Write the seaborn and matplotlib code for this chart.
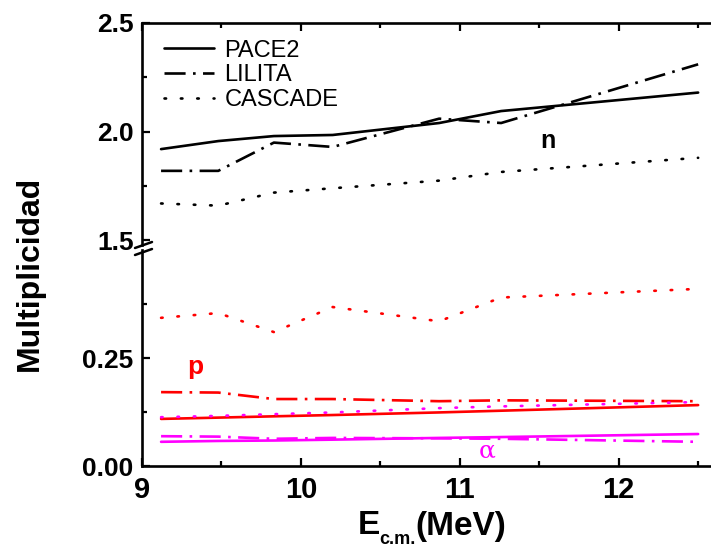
import numpy as np
import pandas as pd
import matplotlib
matplotlib.use("Agg")
import matplotlib.pyplot as plt
from matplotlib.lines import Line2D
import seaborn as sns

# ---------------- data ----------------
energy = [9.12, 9.48, 9.83, 10.2, 10.87, 11.26, 12.5]

n_pace2 = [1.92, 1.957, 1.98, 1.985, 2.04, 2.095, 2.18]
n_lilita = [1.82, 1.82, 1.95, 1.93, 2.06, 2.04, 2.31]
n_cascade = [1.67, 1.66, 1.72, 1.74, 1.775, 1.815, 1.88]

p_pace2 = [0.109, 0.112, 0.115, 0.118, 0.124, 0.128, 0.141]
p_lilita = [0.171, 0.170, 0.155, 0.155, 0.150, 0.152, 0.150]
p_cascade = [0.343, 0.354, 0.310, 0.368, 0.335, 0.390, 0.410]

a_pace2 = [0.056, 0.058, 0.059, 0.061, 0.065, 0.067, 0.074]
a_lilita = [0.069, 0.068, 0.063, 0.065, 0.064, 0.063, 0.056]
a_cascade = [0.113, 0.116, 0.120, 0.124, 0.134, 0.138, 0.148]

codes = ["PACE2", "LILITA", "CASCADE"]
x_ticks = [9, 10, 11, 12]
top_ticks = [1.5, 2.0, 2.5]
bot_ticks = [0.00, 0.25]

# ---------------- style ----------------
sns.set_style("ticks")
plt.rcParams["font.family"] = ["Liberation Sans", "DejaVu Sans"]
for k in ("text.color", "axes.labelcolor", "xtick.color", "ytick.color",
          "axes.edgecolor"):
    plt.rcParams[k] = "black"

W, H = 711, 558
fig = plt.figure(figsize=(W / 100, H / 100), dpi=100)

px_per_unit = 158.9
x0 = 142
xmax = 12.6
x1 = x0 + (xmax - 9) * px_per_unit


def rect(xa, ya, xb, yb):
    return [xa / W, 1 - yb / H, (xb - xa) / W, (yb - ya) / H]


ax_top = fig.add_axes(rect(x0, 23, x1, 245))
ax_bot = fig.add_axes(rect(x0, 250, x1, 466))

lw = 1.9
styles = {
    "PACE2": dict(linestyle="-"),
    "LILITA": dict(linestyle=(0, (8, 2.8, 1.0, 2.8))),
    "CASCADE": dict(linestyle=(0, (0.6, 5.6)), dash_capstyle="round"),
}

series_top = {"PACE2": n_pace2, "LILITA": n_lilita, "CASCADE": n_cascade}
series_p = {"PACE2": p_pace2, "LILITA": p_lilita, "CASCADE": p_cascade}
series_a = {"PACE2": a_pace2, "LILITA": a_lilita, "CASCADE": a_cascade}

for name in codes:
    sns.lineplot(x=energy, y=series_top[name], ax=ax_top, color="black",
                 lw=lw, label=name, **styles[name])
for name in codes:
    sns.lineplot(x=energy, y=series_p[name], ax=ax_bot, color="#ff0000",
                 lw=lw, legend=False, **styles[name])
    sns.lineplot(x=energy, y=series_a[name], ax=ax_bot, color="#ff00ff",
                 lw=lw, legend=False, **styles[name])

# ---------------- axes ----------------
for ax in (ax_top, ax_bot):
    ax.set_xlim(9, xmax)
    ax.set_xticks(x_ticks)
    ax.set_xticks(np.arange(9.5, 12.6, 1.0), minor=True)
    ax.spines["right"].set_visible(False)
    for s in ax.spines.values():
        s.set_linewidth(1.9)
        s.set_color("black")
    ax.tick_params(which="major", direction="in", length=6, width=1.6)
    ax.tick_params(which="minor", direction="in", length=3.5, width=1.6)
    ax.set_xlabel("")
    ax.set_ylabel("")
    ax.set_facecolor("white")

ax_top.set_ylim(1.479, 2.5)
ax_top.set_yticks(top_ticks)
ax_top.set_yticks([1.75, 2.25], minor=True)
ax_top.set_yticklabels([f"{v:.1f}" for v in top_ticks])
ax_top.spines["bottom"].set_visible(False)
ax_top.tick_params(axis="x", which="both", top=True, bottom=False,
                   labelbottom=False)
ax_top.tick_params(axis="y", which="both", left=True, right=False)

ax_bot.set_ylim(0, 0.5)
ax_bot.set_yticks(bot_ticks)
ax_bot.set_yticks([0.125, 0.375], minor=True)
ax_bot.set_yticklabels([f"{v:.2f}" for v in bot_ticks])
ax_bot.spines["top"].set_visible(False)
ax_bot.tick_params(axis="x", which="both", top=False, bottom=True)
ax_bot.tick_params(axis="y", which="both", left=True, right=False)

for ax in (ax_top, ax_bot):
    for lab in ax.get_yticklabels():
        lab.set_fontweight("bold")
        lab.set_fontsize(19)
        lab.set_color("black")
    for lab in ax.get_xticklabels():
        lab.set_fontweight("bold")
        lab.set_fontsize(21)
        lab.set_color("black")
ax_bot.tick_params(axis="x", pad=7)
ax_top.tick_params(axis="y", pad=6)
ax_bot.tick_params(axis="y", pad=6)

# axis labels (E with subscript c.m.), centred under the axis
ylab = 1 - 526 / H
xl = 358
fig.text(xl / W, ylab, "E", ha="left", va="center", fontsize=24,
         fontweight="bold")
fig.text((xl + 21) / W, 1 - 540 / H, "c.m.", ha="left", va="center",
         fontsize=13, fontweight="bold")
fig.text((xl + 57) / W, ylab, "(MeV)", ha="left", va="center", fontsize=24,
         fontweight="bold")
fig.text(30 / W, 1 - 273 / H, "Multiplicidad", rotation=90, ha="center",
         va="center", fontsize=23, fontweight="bold")

# break marks
for yb in (245, 252):
    fig.add_artist(Line2D([135 / W, 152 / W], [1 - (yb + 3) / H, 1 - (yb - 3) / H],
                          color="black", lw=1.8, transform=fig.transFigure))

# curve labels
ax_top.text(11.555, 1.957, "n", color="black", fontsize=18, fontweight="bold",
            ha="center", va="center")
ax_bot.text(9.334, 0.229, "p", color="#ff0000", fontsize=19, fontweight="bold",
            ha="center", va="center")
ax_bot.text(11.17, 0.034, "α", color="#ff00ff", fontsize=18,
            ha="center", va="center", family=["DejaVu Serif"])

# legend
leg = ax_top.legend(loc="upper left", frameon=False, fontsize=17,
                    handlelength=2.1, handletextpad=0.45, labelspacing=0.12,
                    borderaxespad=0.3, bbox_to_anchor=(0.01, 1.0))
for h in leg.get_lines():
    h.set_linewidth(lw)
for t in leg.get_texts():
    t.set_color("black")

fig.savefig("out.png", dpi=100, facecolor="white")
